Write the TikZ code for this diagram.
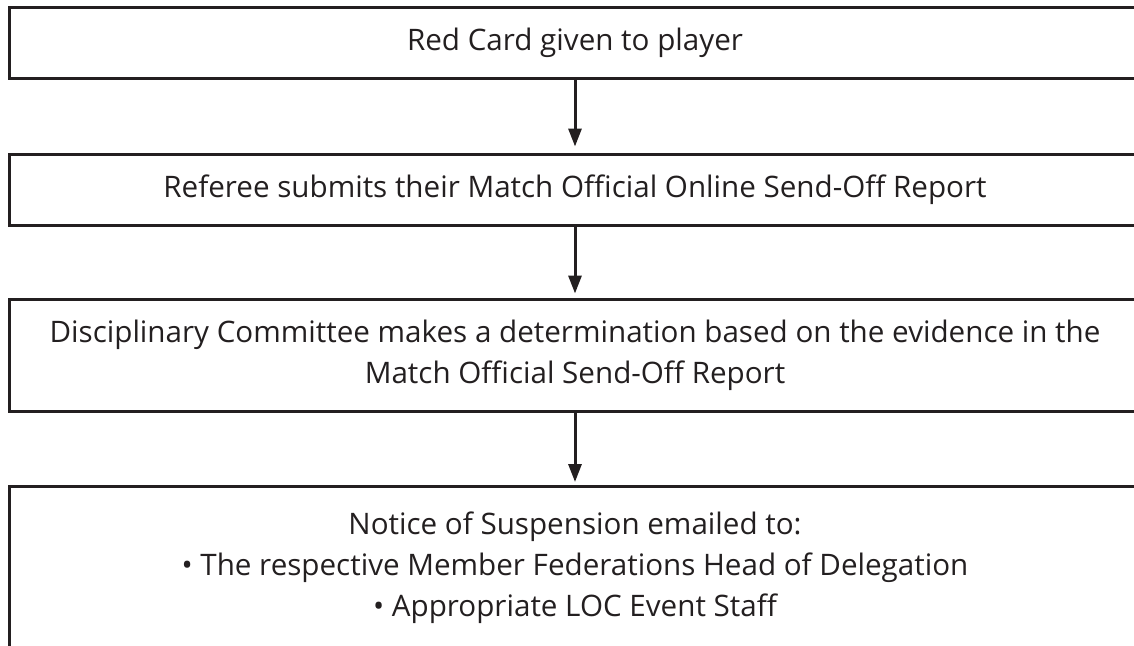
\documentclass[tikz,border=0pt]{standalone}
\usepackage{fontspec}
\setmainfont{Open Sans}
\usetikzlibrary{arrows.meta}
\definecolor{ink}{HTML}{231F20}
\begin{document}
\begin{tikzpicture}[x=0.5pt,y=-0.5pt,
  box/.style={draw=ink,line width=1.5pt,minimum width=566pt,inner sep=0pt,
    text=ink,align=center,font=\fontsize{14.8}{20.5}\selectfont},
  txt/.style={text=ink,align=center,inner sep=0pt,font=\fontsize{14.8}{20.5}\selectfont},
  arr/.style={draw=ink,line width=1.5pt,-{Triangle[width=6.5pt,length=9pt]}}]
\useasboundingbox (0,0) rectangle (1134,645);
\clip (0,0) rectangle (1134,645);
\node[box,minimum height=35.5pt] (b1) at (575,42.5) {Red Card given to player};
\node[box,minimum height=35.5pt] (b2) at (575,189.5) {Referee submits their Match Official Online Send-Off Report};
\node[box,minimum height=56pt] (b3) at (575,355) {Disciplinary Committee makes a determination based on the evidence in the\\Match Official Send-Off Report};
\node[box,minimum height=150pt,anchor=north] (b4) at (575,485) {};
\node[txt] (t4) at (575,568) {Notice of Suspension emailed to:\\\textbullet\ The respective Member Federations Head of Delegation\\\textbullet\ Appropriate LOC Event Staff};
\draw[arr,shorten >=3pt] (b1.south) -- (b2.north);
\draw[arr,shorten >=2pt] (b2.south) -- (b3.north);
\draw[arr,shorten >=1.5pt] (b3.south) -- (b4.north);
\end{tikzpicture}
\end{document}
